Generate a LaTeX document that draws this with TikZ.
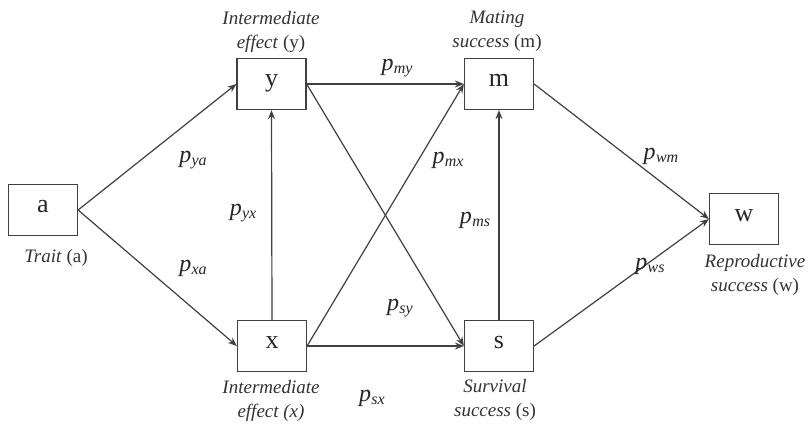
\documentclass[tikz,border=0pt]{standalone}
\usepackage{fontspec}
\setmainfont{Liberation Serif}
\usetikzlibrary{arrows.meta}
\newcommand\pl[1]{\textit{p}\kern0.3pt\raisebox{-0.32ex}{\fontsize{16}{16}\selectfont\textit{#1}}}
\begin{document}
\begin{tikzpicture}[x=1pt,y=-1pt,
 box/.style={draw=black!75, line width=1.2pt, minimum width=69pt, minimum height=51pt, inner sep=0pt, font=\fontsize{26}{26}\selectfont, text=black!85, text height=1ex, text depth=0pt},
 lab/.style={align=center, font=\fontsize{19}{24}\selectfont, text=black!80, inner sep=0pt},
 plab/.style={font=\fontsize{24}{24}\selectfont, text=black!85, inner sep=0pt},
 arr/.style={draw=black!75, line width=1.2pt, -{Stealth[length=9pt,width=7pt]}}]
\useasboundingbox (0,0) rectangle (812,426);
\fill[white] (0,0) rectangle (812,426);
\node[box] (a) at (43,210) {a};
\node[box] (y) at (271.5,84) {y};
\node[box] (m) at (499,84) {m};
\node[box] (w) at (744,219) {w};
\node[box] (x) at (272,346) {x};
\node[box] (s) at (499,346) {s};
% box labels
\node[lab] (la) at (56,258) {\textit{Trait} (a)};
\node[lab] (ly) at (271,32) {\textit{Intermediate}\\\textit{effect} (y)};
\node[lab] (lm) at (497,31) {\textit{Mating}\\\textit{success} (m)};
\node[lab] (lw) at (755,275) {\textit{Reproductive}\\\textit{success} (w)};
\node[lab] (lx) at (271,401) {\textit{Intermediate}\\\textit{effect (x)}};
\node[lab] (ls) at (495,400) {\textit{Survival}\\\textit{success} (s)};
% connectors
\draw[arr] (a.east) -- (y.west);
\draw[arr] (a.east) -- (x.west);
\draw[arr] (x.north) -- (y.south);
\draw[arr] (y.east) -- (m.west);
\draw[arr] (x.east) -- (m.west);
\draw[arr] (y.east) -- (s.west);
\draw[arr] (x.east) -- (s.west);
\draw[arr] (s.north) -- (m.south);
\draw[arr] (m.east) -- (w.west);
\draw[arr] (s.east) -- (w.west);
% path labels
\node[plab] (pya) at (193,160) {\pl{ya}};
\node[plab] (pxa) at (193,268) {\pl{xa}};
\node[plab] (pyx) at (243,213) {\pl{yx}};
\node[plab] (pmy) at (397,68) {\pl{my}};
\node[plab] (pmx) at (448,160) {\pl{mx}};
\node[plab] (pms) at (475,220) {\pl{ms}};
\node[plab] (psy) at (400,308) {\pl{sy}};
\node[plab] (psx) at (372,398) {\pl{sx}};
\node[plab] (pwm) at (661,156) {\pl{wm}};
\node[plab] (pws) at (650,266) {\pl{ws}};
\end{tikzpicture}
\end{document}
